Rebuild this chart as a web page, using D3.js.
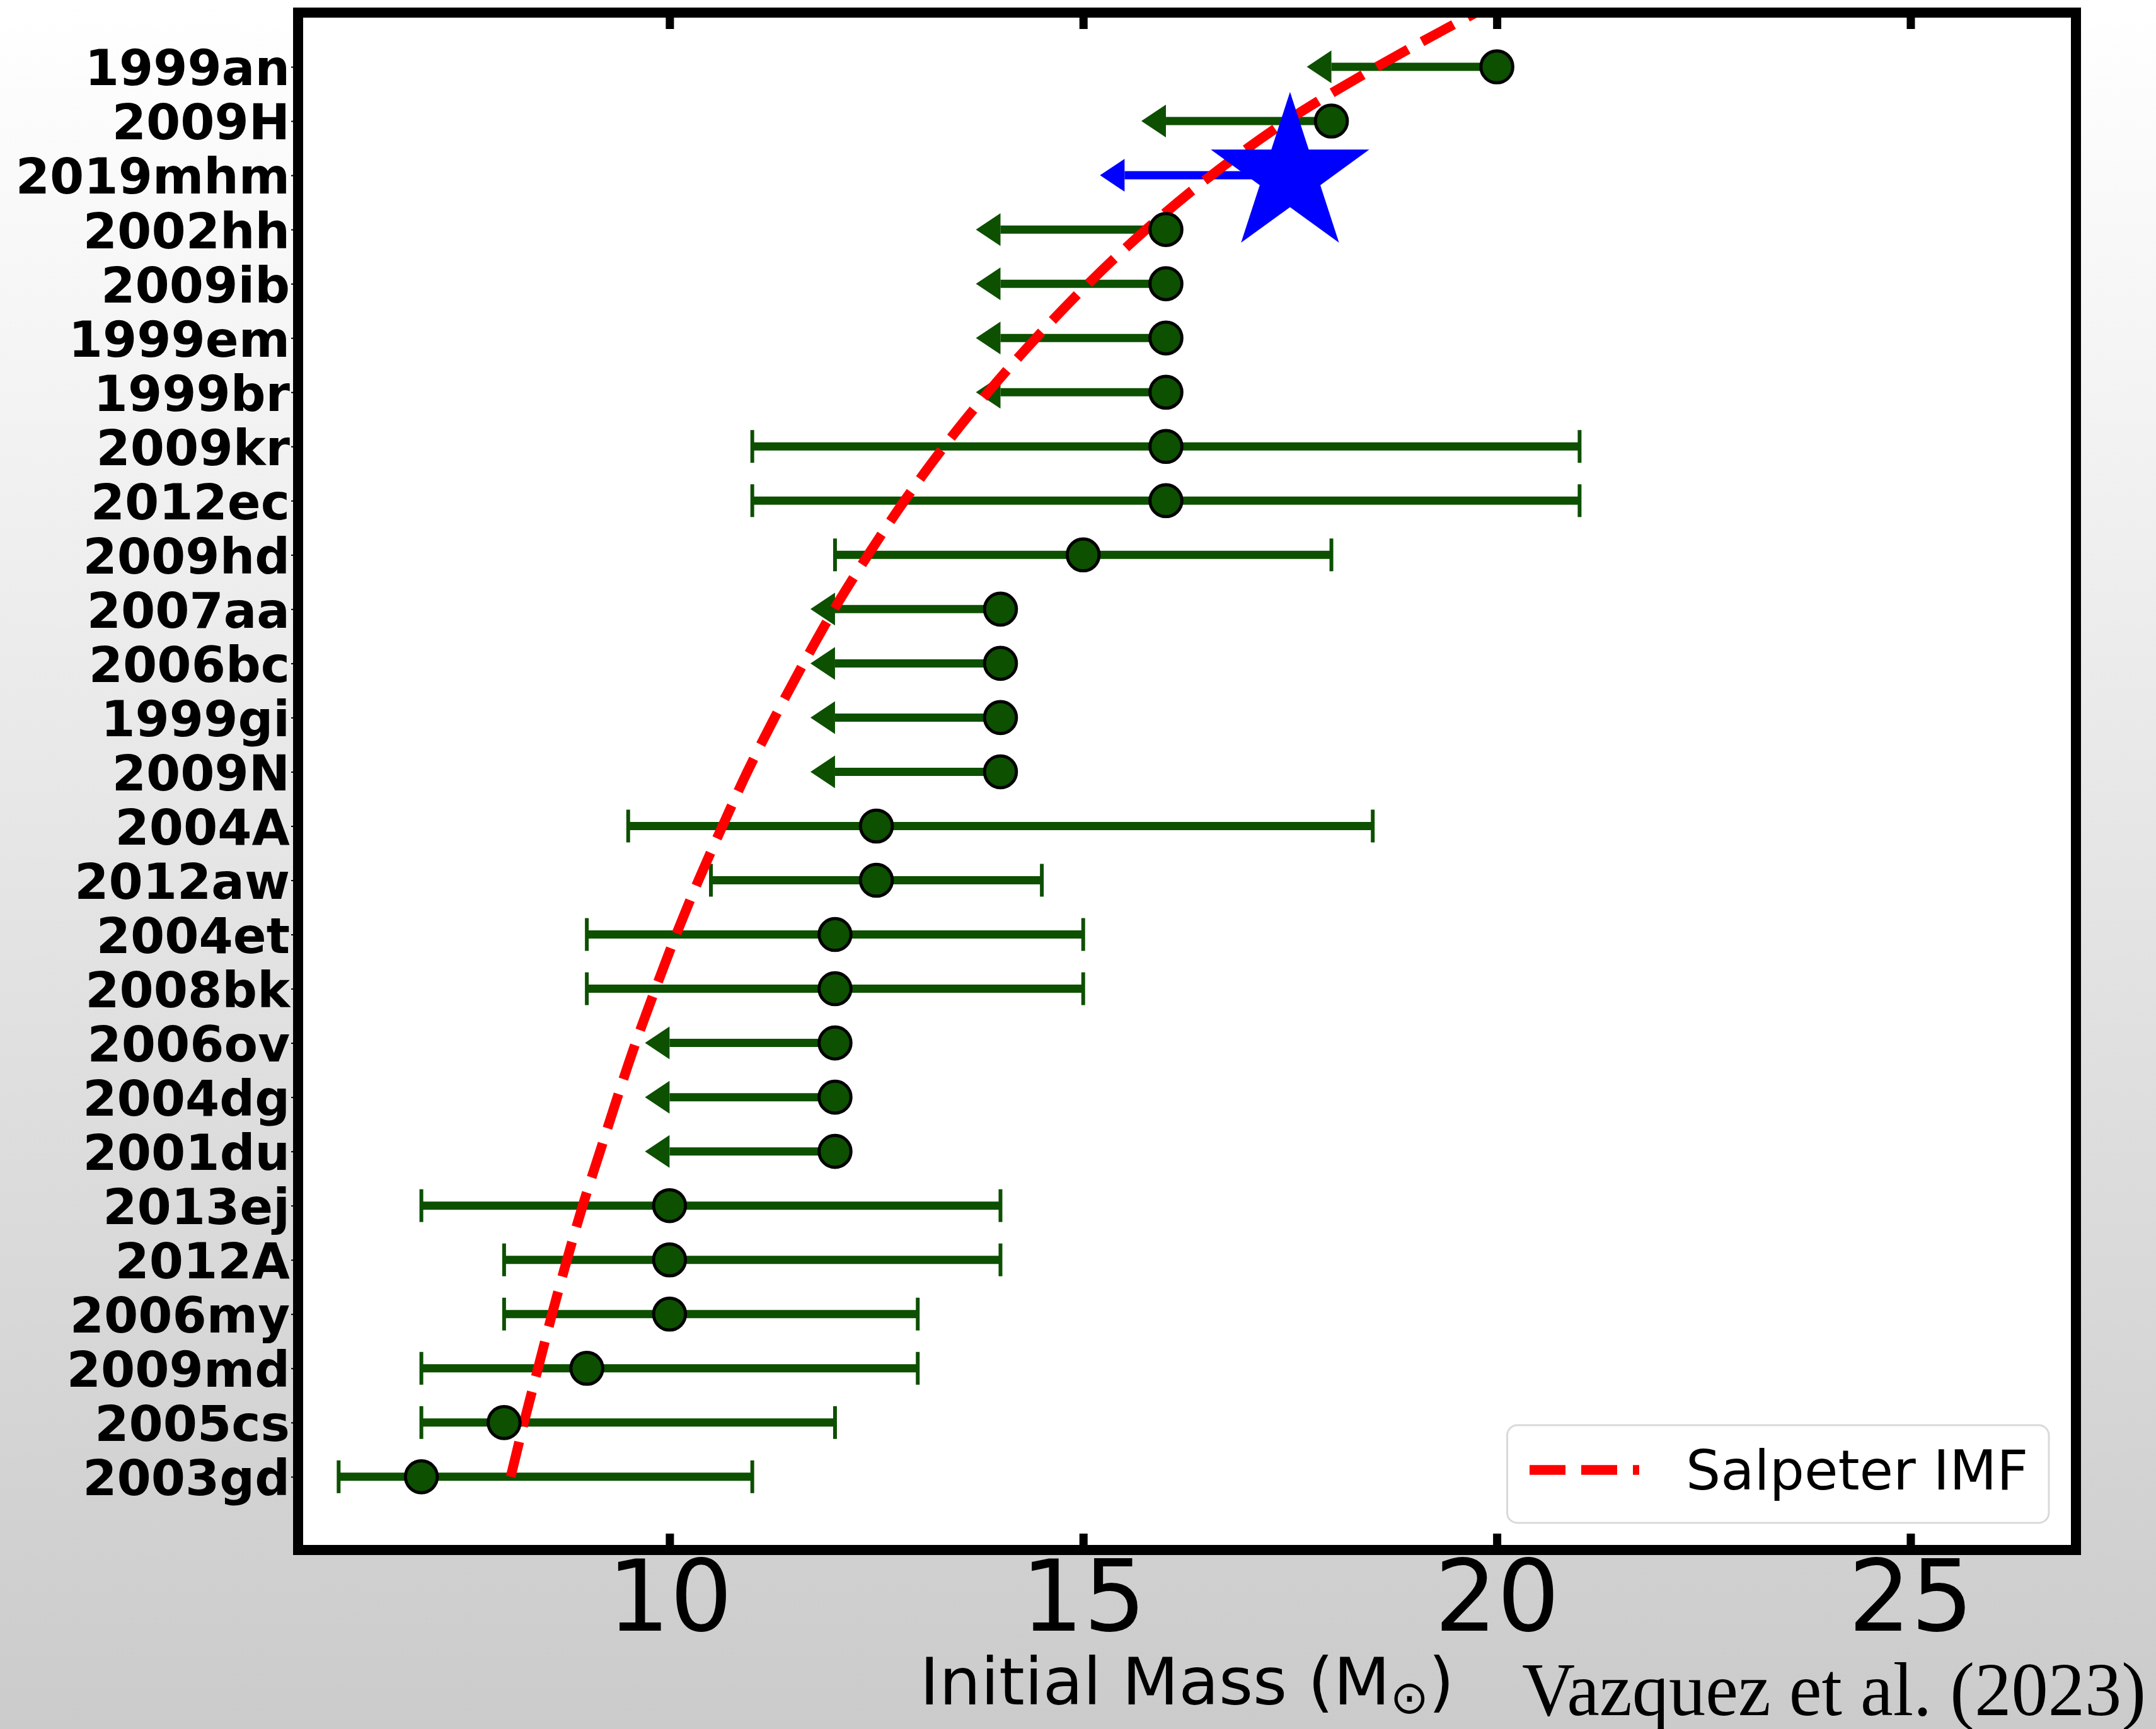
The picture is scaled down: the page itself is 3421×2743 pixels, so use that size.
<!DOCTYPE html>
<html><head><meta charset="utf-8">
<script src="https://cdn.jsdelivr.net/npm/d3@7"></script>
<style>body{margin:0;background:#fff;} svg{display:block;}</style>
</head><body>
<script>
// ---- data (top to bottom) ----
const names = ["1999an","2009H","2019mhm","2002hh","2009ib","1999em","1999br","2009kr","2012ec","2009hd",
  "2007aa","2006bc","1999gi","2009N","2004A","2012aw","2004et","2008bk","2006ov","2004dg","2001du",
  "2013ej","2012A","2006my","2009md","2005cs","2003gd"];
const mass    = [20,18,17.5,16,16,16,16,16,16,15,14,14,14,14,12.5,12.5,12,12,12,12,12,10,10,10,9,8,7];
const errLow  = [2,2,2,2,2,2,2,5,5,3,2,2,2,2,3,2,3,3,2,2,2,3,2,2,2,1,1];
const errHigh = [0,0,0,0,0,0,0,5,5,3,0,0,0,0,6,2,3,3,0,0,0,4,4,3,4,4,4];
const upperLimit = [true,true,true,true,true,true,true,false,false,false,true,true,true,true,
  false,false,false,false,true,true,true,false,false,false,false,false,false];
const highlight = "2019mhm";
const xTicks = [10,15,20,25];
// Salpeter IMF curve: row position (0 = top row) and mass
const imfRow  = [26,25,24,23,22,21,20,19,18,17,16,15,14,13,12,11,10,9,8,7,6,5,4,3,2,1,0,-1,-1.5];
const imfMass = [8.08,8.24,8.41,8.58,8.76,8.95,9.16,9.37,9.59,9.83,10.08,10.35,10.64,10.94,11.27,
  11.62,11.99,12.40,12.84,13.32,13.85,14.43,15.06,15.76,16.55,17.46,18.55,19.75,20.4];
const legendLabel = "Salpeter IMF";
const xLabel = "Initial Mass (M";
const credit = "Vazquez et al. (2023)";

// ---- layout ----
const W = 3421, H = 2743;
const L = 473, R = 3294, T = 20, B = 2459;
const green = "#0c5000", blue = "#0000ff", red = "#ff0000";

const x = d3.scaleLinear().domain([5.51, 27.0]).range([L, R]);
const y = d3.scaleLinear().domain([-1, 27.35]).range([T, B]);

const svg = d3.select("body").append("svg").attr("width", W).attr("height", H);
const defs = svg.append("defs");
const grad = defs.append("linearGradient").attr("id","bg").attr("x1",0).attr("y1",0).attr("x2",0).attr("y2",1);
grad.append("stop").attr("offset","0%").attr("stop-color","#ffffff");
grad.append("stop").attr("offset","100%").attr("stop-color","#cbcbcb");
defs.append("clipPath").attr("id","clip").append("rect").attr("x",L).attr("y",T).attr("width",R-L).attr("height",B-T);

svg.append("rect").attr("width",W).attr("height",H).attr("fill","url(#bg)");
svg.append("rect").attr("x",L).attr("y",T).attr("width",R-L).attr("height",B-T).attr("fill","#fff");

const plot = svg.append("g").attr("clip-path","url(#clip)");
const rows = names.map((n,i)=>({name:n, i, m:mass[i], lo:errLow[i], hi:errHigh[i], ul:upperLimit[i]}));
const colorOf = d => d.name === highlight ? blue : green;

// error bars
const eb = plot.append("g");
rows.forEach(d => {
  const c = colorOf(d), cy = y(d.i);
  if (d.ul) {
    const xb = x(d.m - d.lo);
    eb.append("line").attr("x1", x(d.m)).attr("x2", xb).attr("y1", cy).attr("y2", cy)
      .attr("stroke", c).attr("stroke-width", 13);
    eb.append("path").attr("d", `M${xb},${cy-26}L${xb-39},${cy}L${xb},${cy+26}Z`).attr("fill", c);
  } else {
    const x0 = x(d.m - d.lo), x1 = x(d.m + d.hi);
    eb.append("line").attr("x1", x0).attr("x2", x1).attr("y1", cy).attr("y2", cy)
      .attr("stroke", c).attr("stroke-width", 13);
    [x0, x1].forEach(xx => eb.append("line").attr("x1", xx).attr("x2", xx)
      .attr("y1", cy-26).attr("y2", cy+26).attr("stroke", c).attr("stroke-width", 6));
  }
});

// Salpeter curve
const imf = imfRow.map((r,k)=>({r, m:imfMass[k]}));
plot.append("path").datum(imf)
  .attr("d", d3.line().x(d=>x(d.m)).y(d=>y(d.r)).curve(d3.curveCatmullRom))
  .attr("fill","none").attr("stroke",red).attr("stroke-width",15.5).attr("stroke-dasharray","57,25");

// markers
plot.append("g").selectAll("circle").data(rows.filter(d=>d.name!==highlight)).join("circle")
  .attr("cx", d=>x(d.m)).attr("cy", d=>y(d.i)).attr("r", 25.3)
  .attr("fill", green).attr("stroke","#000").attr("stroke-width",5);
plot.append("g").selectAll("path").data(rows.filter(d=>d.name===highlight)).join("path")
  .attr("transform", d=>`translate(${x(d.m)},${y(d.i)})`)
  .attr("d", d3.symbol(d3.symbolStar, 129*129/0.8908130915292852))
  .attr("fill", blue).attr("stroke", blue).attr("stroke-width", 2);

// axes
const fontFam = "DejaVu Sans, sans-serif";
const xb = svg.append("g").attr("transform",`translate(0,${B})`)
  .call(d3.axisBottom(x).tickValues(xTicks).tickFormat(d3.format("d")).tickSize(-26).tickPadding(17));
xb.select(".domain").remove();
xb.selectAll("line").attr("stroke","#000").attr("stroke-width",13);
xb.selectAll("text").attr("font-size",156).attr("font-family",fontFam).attr("fill","#000");

const xt = svg.append("g").attr("transform",`translate(0,${T})`)
  .call(d3.axisTop(x).tickValues(xTicks).tickFormat("").tickSize(-26));
xt.select(".domain").remove();
xt.selectAll("line").attr("stroke","#000").attr("stroke-width",13);

const yl = svg.append("g").attr("transform",`translate(${L-8},0)`)
  .call(d3.axisLeft(y).tickValues(d3.range(names.length)).tickFormat(i=>names[i]).tickSize(3).tickPadding(2));
yl.select(".domain").remove();
yl.selectAll("line").attr("stroke","#000").attr("stroke-width",2);
yl.selectAll("text").attr("font-size",78).attr("font-weight","bold").attr("font-family",fontFam)
  .attr("fill","#000").attr("dy","0.37em");

// frame
svg.append("rect").attr("x",L).attr("y",T).attr("width",R-L).attr("height",B-T)
  .attr("fill","none").attr("stroke","#000").attr("stroke-width",16);

// legend
const lg = svg.append("g");
lg.append("rect").attr("x",2391.5).attr("y",2261).attr("width",859.5).attr("height",155).attr("rx",16)
  .attr("fill","#fff").attr("stroke","#d9d9d9").attr("stroke-width",3);
lg.append("line").attr("x1",2427).attr("x2",2601).attr("y1",2332).attr("y2",2332)
  .attr("stroke",red).attr("stroke-width",15.5).attr("stroke-dasharray","57,25");
lg.append("text").attr("x",2675).attr("y",2363).attr("font-size",87).attr("font-family",fontFam).text(legendLabel);

// x label
const xl = svg.append("text").attr("x",(L+R)/2).attr("y",2704).attr("text-anchor","middle")
  .attr("font-size",104).attr("font-family",fontFam).attr("fill","#000");
xl.append("tspan").text(xLabel);
xl.append("tspan").attr("font-size",73).attr("dy",14).text("\u2299");
xl.append("tspan").attr("font-size",104).attr("dy",-14).text(")");

// credit
svg.append("text").attr("x",2415).attr("y",2721).attr("font-size",120)
  .attr("font-family","Liberation Serif, DejaVu Serif, serif").attr("textLength",990)
  .attr("lengthAdjust","spacingAndGlyphs").text(credit);
</script>
</body></html>
